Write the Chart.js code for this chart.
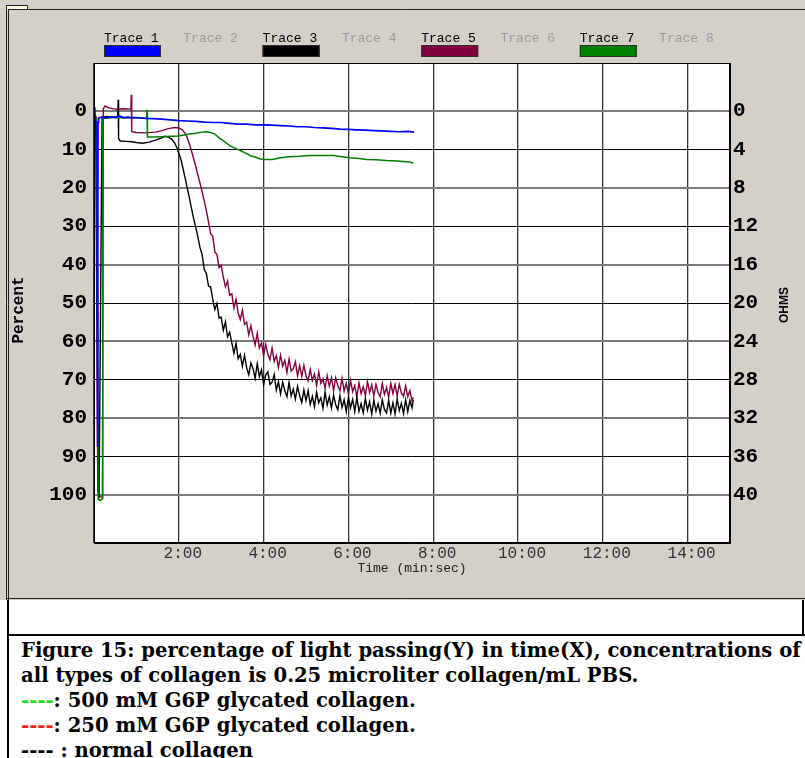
<!DOCTYPE html>
<html><head><meta charset="utf-8">
<script src="https://cdn.jsdelivr.net/npm/chart.js@4.4.1/dist/chart.umd.min.js"></script>
<style>
html,body{margin:0;padding:0;background:#fff;}
body{width:805px;height:758px;overflow:hidden;position:relative;}
#c{position:absolute;left:0;top:0;}
.cap{position:absolute;left:21px;top:638px;font-family:'DejaVu Serif',serif;font-weight:bold;font-size:18px;line-height:25px;white-space:nowrap;color:#000;}
</style></head><body>
<canvas id="c" width="805" height="600"></canvas>
<div style="position:absolute;left:7px;top:600px;width:2px;height:158px;background:#000"></div>
<div style="position:absolute;left:7px;top:634px;width:798px;height:2px;background:#000"></div>
<div style="position:absolute;left:802px;top:600px;width:2px;height:35px;background:#000"></div>
<div class="cap" id="cap">
<div><span id="l1">Figure 15: percentage of light passing(Y) in time(X), concentrations of</span></div>
<div>all types of collagen is 0.25 microliter collagen/mL PBS.</div>
<div><span style="color:#22dd22">----</span>: 500 mM G6P glycated collagen.</div>
<div><span style="color:#ff1a1a">----</span>: 250 mM G6P glycated collagen.</div>
<div><span>----</span> : normal collagen</div>
</div>
<script>
// ---------- data (time in minutes, value in percent) ----------
const traceNames = ['Trace 1','Trace 2','Trace 3','Trace 4','Trace 5','Trace 6','Trace 7','Trace 8'];

const trace1Time = [0,0.02,0.04,0.07,0.085,0.095,0.11,0.19,0.3,0.4,0.5,0.6,0.7,0.8,0.9,1.0,1.2,1.4,1.6,1.8,2.0,2.2,2.4,2.6,2.8,3.0,3.2,3.4,3.6,3.8,4.0,4.2,4.4,4.6,4.8,5.0,5.2,5.4,5.6,5.8,6.0,6.2,6.4,6.6,6.8,7.0,7.2,7.4,7.55];
const trace1Pct  = [-1.0,0.6,2.8,3.0,87.5,3.0,1.8,1.6,1.7,1.5,1.7,1.3,1.7,1.6,1.8,1.7,1.9,2.0,2.1,2.3,2.5,2.6,2.7,2.9,3.0,3.0,3.2,3.4,3.4,3.6,3.6,3.7,3.8,3.9,4.1,4.1,4.3,4.4,4.5,4.7,4.8,4.9,5.0,5.1,5.2,5.3,5.4,5.3,5.5];

const trace3Time = [0,0.04,0.09,0.12,0.19,0.3,0.45,0.56,0.57,0.58,0.62,0.75,0.9,1.0,1.15,1.3,1.45,1.6,1.67,1.75,1.83,1.9,1.95,2.0,2.05,2.1,2.15,2.2,2.25,2.3,2.35,2.4,2.45,
 2.5,2.55,2.6,2.65,2.7,2.75,2.8,2.85,2.9,2.95,3.0,3.05,3.1,3.15,3.2,3.25,3.3,3.35,3.4,3.45,3.5,3.55,3.6,3.65,3.7,3.75,3.8,3.85,3.9,3.95,
 4.0,4.05,4.1,4.15,4.2,4.25,4.3,4.35,4.4,4.45,4.5,4.55,4.6,4.65,4.7,4.75,4.8,4.85,4.9,4.95,5.0,5.05,5.1,5.15,5.2,5.25,5.3,5.35,5.4,5.45,
 5.5,5.55,5.6,5.65,5.7,5.75,5.8,5.85,5.9,5.95,6.0,6.05,6.1,6.15,6.2,6.25,6.3,6.35,6.4,6.45,6.5,6.55,6.6,6.65,6.7,6.75,6.8,6.85,6.9,6.95,
 7.0,7.05,7.1,7.15,7.2,7.25,7.3,7.35,7.4,7.45,7.5,7.53];
const trace3Pct  = [0.5,2.0,99.0,100.0,1.6,1.4,1.6,1.5,-2.9,7.2,7.8,7.9,8.0,8.2,8.4,8.1,7.6,7.0,6.6,6.8,7.3,8.3,9.4,11.0,12.6,15.0,17.5,20.1,22.6,25.4,28.0,30.3,32.8,
 35.6,37.4,41.3,42.3,45.6,45.8,49.0,51.7,50.1,53.9,53.7,57.1,54.9,58.8,57.6,60.4,63.1,60.5,64.5,63.4,66.5,63.6,66.9,68.7,65.6,67.1,69.6,65.8,69.2,67.4,
 71.2,68.7,67.9,71.2,70.6,68.6,72.7,70.5,73.7,70.6,72.8,74.4,70.7,74.2,72.4,75.0,71.7,74.1,75.9,72.6,75.4,72.8,76.4,74.3,77.0,73.2,76.0,74.7,77.4,73.2,
 76.6,74.4,77.4,74.0,76.5,77.8,74.1,77.2,75.2,78.3,74.6,77.3,75.1,78.3,74.6,78.2,76.2,78.6,74.9,77.9,75.7,79.0,75.3,78.2,76.2,78.7,75.2,77.8,78.6,75.4,
 78.7,76.0,78.9,75.0,78.0,76.1,78.8,75.2,78.3,75.4,77.3,75.2];

const trace5Time = [0,0.06,0.11,0.2,0.22,0.26,0.35,0.5,0.7,0.87,0.88,0.89,1.0,1.2,1.45,1.6,1.75,1.9,2.0,2.08,2.15,2.2,2.26,2.32,2.38,2.44,2.5,2.55,2.6,2.65,2.7,
 2.75,2.8,2.85,2.9,2.95,3.0,3.05,3.1,3.15,3.2,3.25,3.3,3.35,3.4,3.45,3.5,3.55,3.6,3.65,3.7,3.75,3.8,3.85,3.9,3.95,
 4.0,4.05,4.1,4.15,4.2,4.25,4.3,4.35,4.4,4.45,4.5,4.55,4.6,4.65,4.7,4.75,4.8,4.85,4.9,4.95,5.0,5.05,5.1,5.15,5.2,5.25,5.3,5.35,5.4,5.45,
 5.5,5.55,5.6,5.65,5.7,5.75,5.8,5.85,5.9,5.95,6.0,6.05,6.1,6.15,6.2,6.25,6.3,6.35,6.4,6.45,6.5,6.55,6.6,6.65,6.7,6.75,6.8,6.85,6.9,6.95,
 7.0,7.05,7.1,7.15,7.2,7.25,7.3,7.35,7.4,7.45,7.5,7.53];
const trace5Pct  = [0.0,2.0,100.5,100.5,-0.6,-1.3,-0.8,-0.5,-0.6,-0.5,-4.2,5.4,5.6,5.7,5.5,5.1,4.6,4.3,4.4,4.9,5.8,7.0,8.9,11.2,13.6,16.2,18.8,21.0,23.4,26.0,28.8,
 32.0,32.5,36.7,37.4,40.8,40.2,43.3,45.8,44.3,48.0,47.6,51.3,49.1,52.6,54.3,51.9,55.6,55.0,58.3,55.9,58.7,60.9,57.9,61.7,60.3,
 63.7,60.8,63.3,64.8,61.7,65.2,63.7,66.8,63.6,66.5,64.9,68.1,64.6,67.7,67.1,65.3,69.0,66.3,69.1,66.2,69.0,70.3,67.3,70.2,68.5,71.5,67.9,70.9,69.8,72.1,
 68.9,71.7,69.4,72.8,69.5,71.5,72.8,69.6,72.9,70.9,73.7,70.1,73.1,71.5,74.5,70.8,73.6,71.8,74.1,70.4,73.3,71.3,74.2,71.2,73.3,74.4,70.9,73.8,72.0,74.5,
 70.9,73.6,71.2,74.2,71.2,73.4,74.3,71.6,74.4,72.8,75.4,74.6];

const trace7Time = [0,0.06,0.1,0.14,0.19,0.205,0.3,0.5,0.7,0.9,1.1,1.24,1.25,1.26,1.4,1.6,1.8,1.95,2.1,2.25,2.4,2.55,2.65,2.75,2.85,2.95,3.05,3.2,3.35,3.45,3.6,3.7,3.8,3.92,4.05,4.2,4.4,4.6,4.85,5.1,5.4,5.65,5.85,6.04,6.25,6.43,6.65,6.9,7.15,7.37,7.45,7.53];
const trace7Pct  = [1.5,2.0,101.0,101.5,101.0,1.8,1.9,1.6,1.8,1.7,1.8,1.9,-0.3,6.8,6.8,6.7,6.6,6.6,6.3,6.0,5.8,5.5,5.4,5.6,6.0,7.0,7.7,9.0,9.8,10.3,11.1,11.7,12.0,12.5,12.6,12.6,12.2,11.9,11.8,11.6,11.6,11.6,11.9,12.2,12.4,12.6,12.7,12.9,13.0,13.2,13.3,13.6];

const xTickValues = [0,2,4,6,8,10,12,14];
const xTickLabels = ['','2:00','4:00','6:00','8:00','10:00','12:00','14:00'];
const yTickValues = [0,10,20,30,40,50,60,70,80,90,100];
const yTickLabels = ['0','10','20','30','40','50','60','70','80','90','100'];
const ohmTickValues = [0,4,8,12,16,20,24,28,32,36,40];
const ohmTickLabels = ['0','4','8','12','16','20','24','28','32','36','40'];

// ---------- styles ----------
const traceColors = ['#0000ff', null, '#000000', null, '#800040', null, '#008000', null];

function pts(t, p) { return t.map((v, i) => ({ x: v, y: p[i] })); }

// fit caption font to the width of the reference line
(function () {
  const cap = document.getElementById('cap');
  const l1 = document.getElementById('l1');
  const w = l1.getBoundingClientRect().width;
  if (w > 0) cap.style.fontSize = (18 * 780 / w).toFixed(2) + 'px';
})();

const framePlugin = {
  id: 'frame',
  beforeDraw(chart) {
    const { ctx, width, height, chartArea: a } = chart;
    ctx.save();
    ctx.fillStyle = '#d4d0c8';
    ctx.fillRect(0, 0, width, height);
    ctx.fillStyle = '#ffffe6';
    ctx.fillRect(6, 5, 21, 4);
    ctx.strokeStyle = '#202020';
    ctx.lineWidth = 1;
    ctx.beginPath();
    ctx.moveTo(6.5, 5.5); ctx.lineTo(27.5, 5.5); ctx.lineTo(27.5, 9);
    ctx.moveTo(6.5, 5); ctx.lineTo(6.5, height);
    ctx.moveTo(8.5, 9.5); ctx.lineTo(width, 9.5);
    ctx.moveTo(8.5, 9.5); ctx.lineTo(8.5, height);
    ctx.moveTo(6, height - 1.5); ctx.lineTo(width, height - 1.5);
    ctx.stroke();
    ctx.fillStyle = '#ffffff';
    ctx.fillRect(a.left, a.top, a.right - a.left, a.bottom - a.top);
    ctx.restore();
  },
  afterDraw(chart) {
    const { ctx, chartArea: a } = chart;
    ctx.save();
    // plot border
    ctx.strokeStyle = '#000';
    ctx.lineWidth = 1;
    ctx.strokeRect(Math.round(a.left) + 0.5, Math.round(a.top) + 0.5, Math.round(a.right - a.left) - 1, Math.round(a.bottom - a.top) - 1);
    // legend of traces
    ctx.font = '13px "Liberation Mono", monospace';
    ctx.textBaseline = 'middle';
    ctx.textAlign = 'left';
    traceNames.forEach((name, i) => {
      const x = 104 + i * 79.3;
      const col = traceColors[i];
      ctx.fillStyle = col ? '#000' : '#9a9a9a';
      ctx.fillText(name, x, 38.5);
      if (col) {
        ctx.fillStyle = col;
        ctx.fillRect(x, 45, 57, 12);
        ctx.strokeStyle = '#303030';
        ctx.strokeRect(x + 0.5, 45.5, 56, 11);
      }
    });
    // axis titles
    ctx.fillStyle = '#000';
    ctx.textAlign = 'center';
    ctx.font = 'bold 16px "Liberation Mono", monospace';
    ctx.translate(19, 310);
    ctx.rotate(-Math.PI / 2);
    ctx.fillText('Percent', 0, 0);
    ctx.setTransform(1, 0, 0, 1, 0, 0);
    ctx.font = 'bold 12px "Liberation Sans", Arial, sans-serif';
    ctx.translate(785, 305);
    ctx.rotate(-Math.PI / 2);
    ctx.fillText('OHMS', 0, 0);
    ctx.restore();
  }
};

const monoBig = { family: '"Liberation Mono", monospace', size: 21, weight: 'bold' };

new Chart(document.getElementById('c'), {
  type: 'line',
  data: {
    datasets: [
      { label: traceNames[0], data: pts(trace1Time, trace1Pct), borderColor: traceColors[0], borderWidth: 1.7, pointRadius: 0, tension: 0 },
      { label: traceNames[6], data: pts(trace7Time, trace7Pct), borderColor: traceColors[6], borderWidth: 1.5, pointRadius: 0, tension: 0 },
      { label: traceNames[2], data: pts(trace3Time, trace3Pct), borderColor: traceColors[2], borderWidth: 1.4, pointRadius: 0, tension: 0 },
      { label: traceNames[4], data: pts(trace5Time, trace5Pct), borderColor: traceColors[4], borderWidth: 1.4, pointRadius: 0, tension: 0 }
    ]
  },
  options: {
    responsive: false,
    animation: false,
    devicePixelRatio: 1,
    layout: { padding: { left: 0, right: 0, top: 63, bottom: 0 } },
    plugins: { legend: { display: false }, tooltip: { enabled: false } },
    scales: {
      x: {
        type: 'linear', min: 0, max: 15,
        afterFit: s => { s.height = 57; },
        afterBuildTicks: s => { s.ticks = xTickValues.map(v => ({ value: v })); },
        ticks: {
          autoSkip: false, maxRotation: 0, padding: 1, labelOffset: 4, color: '#333',
          font: { family: '"Liberation Mono", monospace', size: 16 },
          callback: (v) => { const i = xTickValues.indexOf(v); return i >= 0 ? xTickLabels[i] : ''; }
        },
        grid: { color: '#333', lineWidth: 1.3, drawTicks: false },
        border: { display: true, color: '#000', width: 1 },
        title: { display: true, text: 'Time (min:sec)', color: '#222', font: { family: '"Liberation Mono", monospace', size: 13 }, padding: { top: 0, bottom: 24 } }
      },
      y: {
        type: 'linear', position: 'left', reverse: true, min: -12.5, max: 112.5,
        afterFit: s => { s.width = 94; },
        afterBuildTicks: s => { s.ticks = yTickValues.map(v => ({ value: v })); },
        ticks: {
          autoSkip: false, padding: 7, color: '#000', font: monoBig,
          callback: (v) => { const i = yTickValues.indexOf(v); return i >= 0 ? yTickLabels[i] : ''; }
        },
        grid: {
          drawTicks: false,
          color: c => (c.tick && c.tick.value % 20 === 0) ? '#7a7a7a' : '#000',
          lineWidth: c => (c.tick && c.tick.value % 20 === 0) ? 2 : 1
        },
        border: { display: true, color: '#000', width: 1 }
      },
      y2: {
        type: 'linear', position: 'right', reverse: true, min: -5, max: 45,
        afterFit: s => { s.width = 75; },
        afterBuildTicks: s => { s.ticks = ohmTickValues.map(v => ({ value: v })); },
        ticks: {
          autoSkip: false, padding: 3, color: '#000', font: monoBig,
          callback: (v) => { const i = ohmTickValues.indexOf(v); return i >= 0 ? ohmTickLabels[i] : ''; }
        },
        grid: { display: false, drawTicks: false },
        border: { display: true, color: '#000', width: 1 }
      }
    }
  },
  plugins: [framePlugin]
});
</script>
</body></html>
